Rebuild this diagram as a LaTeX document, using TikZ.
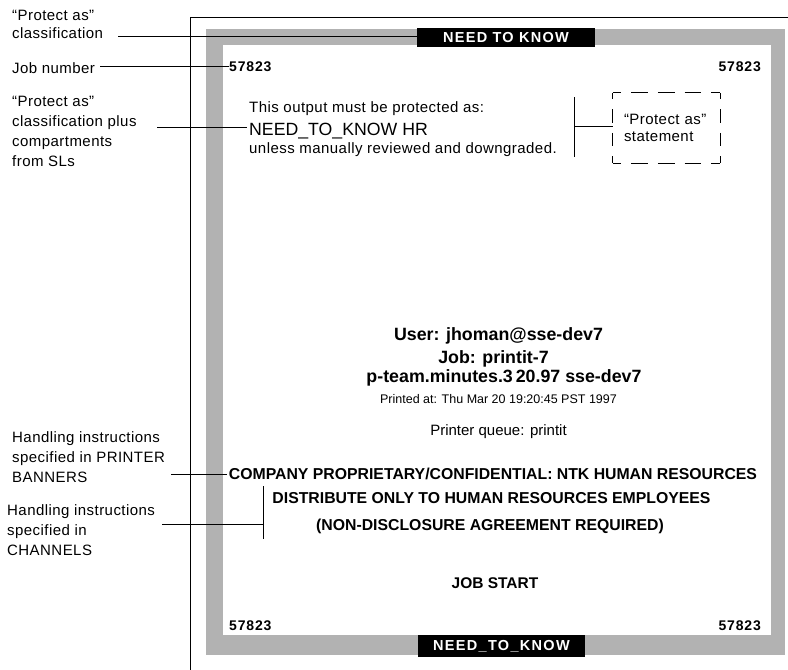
\documentclass[tikz,border=0pt]{standalone}
\usepackage{fontspec}
\setmainfont{Liberation Sans}
\newfontfamily\fA[LetterSpace=3]{Liberation Sans}
\newfontfamily\fB[LetterSpace=9]{Liberation Sans}
\newfontfamily\fC[LetterSpace=6]{Liberation Sans}
\begin{document}
\begin{tikzpicture}[x=1pt,y=-1pt,
  lab/.style={font=\fA\fontsize{15}{20}\selectfont, align=left, inner sep=0pt, anchor=base west},
  body/.style={font=\fA\fontsize{15}{18}\selectfont, inner sep=0pt, anchor=base west},
  big/.style={font=\bfseries\fontsize{17.8}{20}\selectfont, inner sep=0pt, anchor=base},
  hand/.style={font=\bfseries\fontsize{15.8}{19}\selectfont, inner sep=0pt, anchor=base},
  num/.style={font=\fC\bfseries\fontsize{14}{16}\selectfont, inner sep=0pt},
  banner/.style={fill=black, text=white, inner sep=0pt, font=\fB\bfseries\fontsize{14.5}{16}\selectfont},
  lead/.style={line width=0.8pt},
  band/.style={fill=black!30},
  dashtop/.style={line width=0.9pt, dash pattern=on 16.75pt off 10pt, dash phase=8.375pt},
  dashside/.style={line width=0.9pt, dash pattern=on 13.33pt off 10pt, dash phase=6.67pt}
]
\useasboundingbox (0,0) rectangle (788,670);
\fill[white] (0,0) rectangle (788,670);
% page frame
\draw[lead] (190,17.5) -- (788,17.5);
\draw[lead] (190,17.5) -- (190,670);
% shaded border
\fill[band] (206,28.5) rectangle (785,655);
\fill[white] (223,45) rectangle (771,635);

% banners
\node[banner, minimum width=178pt, minimum height=19pt] (ntktop) at (506,37.5) {NEED TO KNOW};
\node[banner, minimum width=167pt, minimum height=22pt] (ntkbot) at (501.5,646) {NEED\_TO\_KNOW};

% job numbers
\node[num, anchor=base west] (n1) at (229,71) {57823};
\node[num, anchor=base east] (n2) at (761,71) {57823};
\node[num, anchor=base west] (n3) at (229,630) {57823};
\node[num, anchor=base east] (n4) at (761,630) {57823};

% protect-as statement
\node[body] (s1) at (249,112) {This output must be protected as:};
\node[font=\fontsize{17.7}{20}\selectfont, inner sep=0pt, anchor=base west] (s2) at (249,135) {NEED\_TO\_KNOW HR};
\node[body] (s3) at (249,153) {unless manually reviewed and downgraded.};

% centre block
\node[big] (u1) at (498.5,340) {User: jhoman@sse-dev7};
\node[big] (u2) at (493.5,363) {Job: printit-7};
\node[big] (u3) at (504,382) {p-team.minutes.3\,20.97 sse-dev7};
\node[font=\fontsize{12.5}{14}\selectfont, inner sep=0pt, anchor=base] (u4) at (498.5,403) {Printed at: Thu Mar 20 19:20:45 PST 1997};
\node[font=\fontsize{15}{18}\selectfont, inner sep=0pt, anchor=base] (u5) at (498.5,435) {Printer queue: printit};

\node[hand] (h1) at (493,479) {COMPANY PROPRIETARY/CONFIDENTIAL: NTK HUMAN RESOURCES};
\node[hand] (h2) at (491.5,503) {DISTRIBUTE ONLY TO HUMAN RESOURCES EMPLOYEES};
\node[hand] (h3) at (490,530) {(NON-DISCLOSURE AGREEMENT REQUIRED)};
\node[font=\bfseries\fontsize{15.5}{18}\selectfont, inner sep=0pt, anchor=base] (js) at (495,588) {JOB START};

% left labels (base anchor = baseline of last line)
\node[lab, font=\fA\fontsize{15}{18}\selectfont] (L1) at (12,38) {“Protect as”\\classification};
\node[lab] (L2) at (12,73) {Job number};
\node[lab, font=\fA\fontsize{15}{19.7}\selectfont] (L3) at (12,166) {“Protect as”\\classification plus\\compartments\\from SLs};
\node[lab] (L4) at (12,482) {Handling instructions\\specified in PRINTER\\BANNERS};
\node[lab] (L5) at (7,555) {Handling instructions\\specified in\\CHANNELS};

% leaders
\coordinate (a1) at (118,36);
\draw[lead] (a1) -- (a1 -| ntktop.west);
\coordinate (a2) at (100,66.7);
\draw[lead] (a2) -- (a2 -| n1.west);
\coordinate (a3) at (157,127);
\draw[lead] (a3) -- ([xshift=-2pt]a3 -| s2.west);
\coordinate (a4) at (171,474);
\draw[lead] (a4) -- ([xshift=-2pt]a4 -| h1.west);
\coordinate (a5) at (162,524);
\coordinate (c1) at (263,486);
\coordinate (c2) at (263,539);
\coordinate (c3) at (263,524);
\draw[lead] (c1) -- (c2);
\draw[lead] (a5) -- (c3);

% statement bracket
\coordinate (b1) at (574,97);
\coordinate (b2) at (574,157);
\coordinate (b3) at (574,126);
\draw[lead] (b1) -- (b2);
\node[minimum width=107pt, minimum height=70pt, text width=85pt, inner xsep=11pt,
      align=left, font=\fA\fontsize{15}{17}\selectfont] (sb) at (666.5,128) {“Protect as”\\statement};
\draw[dashtop] (sb.north west) -- (sb.north east);
\draw[dashtop] (sb.south west) -- (sb.south east);
\draw[dashside] (sb.north west) -- (sb.south west);
\draw[dashside] (sb.north east) -- (sb.south east);
\draw[lead] (b3) -- (b3 -| sb.west);
\end{tikzpicture}
\end{document}
